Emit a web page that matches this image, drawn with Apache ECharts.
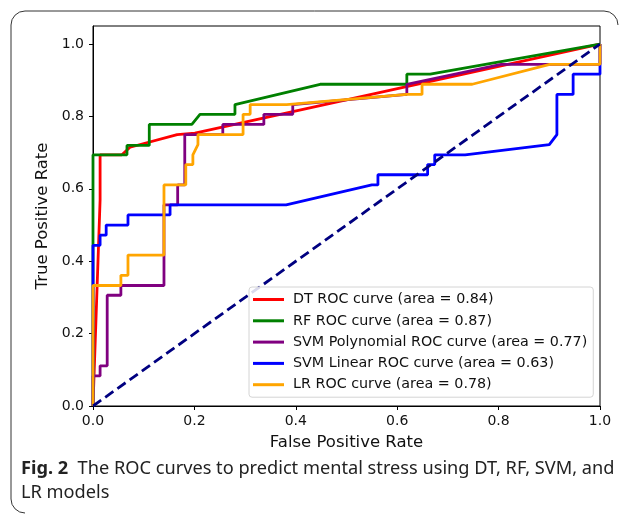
<!DOCTYPE html>
<html>
<head>
<meta charset="utf-8">
<script src="https://cdn.jsdelivr.net/npm/echarts@6/dist/echarts.min.js"></script>
<style>
  html, body { margin: 0; padding: 0; background: #fff; }
  #chart { width: 629px; height: 514px; }
</style>
</head>
<body>
<div id="chart"></div>
<script>
const modelNames = [
  'DT ROC curve (area = 0.84)',
  'RF ROC curve (area = 0.87)',
  'SVM Polynomial ROC curve (area = 0.77)',
  'SVM Linear ROC curve (area = 0.63)',
  'LR ROC curve (area = 0.78)'
]
const modelColors = ['#ff0000', '#008000', '#800080', '#0000ff', '#ffa500']

const dtFpr = [0, 0.014, 0.014, 0.057, 0.073, 0.166, 0.201, 1]
const dtTpr = [0, 0.569, 0.694, 0.694, 0.715, 0.75, 0.754, 1]

const rfFpr = [0, 0, 0.067, 0.067, 0.111, 0.111, 0.195, 0.211, 0.28, 0.28, 0.448, 0.619, 0.619, 0.665, 1]
const rfTpr = [0, 0.694, 0.694, 0.72, 0.72, 0.778, 0.778, 0.806, 0.806, 0.833, 0.889, 0.889, 0.917, 0.917, 1]

const polyFpr = [0, 0, 0.014, 0.014, 0.028, 0.028, 0.055, 0.055, 0.14, 0.14, 0.167, 0.167, 0.181, 0.181, 0.256, 0.256, 0.337, 0.337, 0.394, 0.394, 0.619, 0.619, 0.805, 1, 1]
const polyTpr = [0, 0.083, 0.083, 0.111, 0.111, 0.306, 0.306, 0.333, 0.333, 0.556, 0.556, 0.611, 0.611, 0.75, 0.75, 0.778, 0.778, 0.806, 0.806, 0.833, 0.861, 0.889, 0.944, 0.944, 1]

const linFpr = [0, 0, 0.014, 0.014, 0.026, 0.026, 0.069, 0.069, 0.152, 0.152, 0.381, 0.55, 0.562, 0.562, 0.66, 0.66, 0.674, 0.674, 0.734, 0.9, 0.915, 0.915, 0.947, 0.947, 1, 1]
const linTpr = [0, 0.444, 0.444, 0.472, 0.472, 0.5, 0.5, 0.528, 0.528, 0.556, 0.556, 0.611, 0.611, 0.639, 0.639, 0.667, 0.667, 0.694, 0.694, 0.722, 0.75, 0.861, 0.861, 0.917, 0.917, 1]

const lrFpr = [0, 0, 0.055, 0.055, 0.069, 0.069, 0.14, 0.14, 0.183, 0.183, 0.197, 0.197, 0.207, 0.207, 0.296, 0.296, 0.31, 0.31, 0.382, 0.619, 0.649, 0.649, 0.748, 0.901, 1, 1]
const lrTpr = [0, 0.333, 0.333, 0.361, 0.361, 0.417, 0.417, 0.611, 0.611, 0.667, 0.667, 0.694, 0.722, 0.75, 0.75, 0.806, 0.806, 0.833, 0.833, 0.861, 0.861, 0.889, 0.889, 0.944, 0.944, 1]

const diagX = [0, 1]
const diagY = [0, 1]

const tickValues = [0, 0.2, 0.4, 0.6, 0.8, 1.0]

const curves = [
  [dtFpr, dtTpr],
  [rfFpr, rfTpr],
  [polyFpr, polyTpr],
  [linFpr, linTpr],
  [lrFpr, lrTpr]
]

const zip = (xs, ys) => xs.map((x, i) => [x, ys[i]])

const chart = echarts.init(document.getElementById('chart'))

const axisCommon = {
  type: 'value',
  interval: 0.2,
  min: 0,
  axisLine: { show: true, lineStyle: { color: '#000', width: 1 } },
  axisTick: { show: true, inside: false, length: 4, customValues: tickValues, lineStyle: { color: '#000' } },
  axisLabel: {
    customValues: tickValues,
    formatter: v => v.toFixed(1),
    color: '#111',
    fontFamily: 'DejaVu Sans',
    fontSize: 14
  },
  splitLine: { show: false },
  nameLocation: 'middle',
  nameTextStyle: { fontFamily: 'DejaVu Sans', fontSize: 16.5, color: '#111' }
}

const series = curves.map((c, i) => ({
  name: modelNames[i],
  type: 'line',
  data: zip(c[0], c[1]),
  showSymbol: false,
  symbol: 'none',
  color: modelColors[i],
  lineStyle: { color: modelColors[i], width: 2.8 },
  animation: false
}))
series.push({
  name: 'chance',
  type: 'line',
  data: zip(diagX, diagY),
  showSymbol: false,
  symbol: 'none',
  lineStyle: { color: '#000080', width: 2.8, type: [10, 5] },
  animation: false
})

const option = {
  animation: false,
  grid: {
    left: 93, right: 29, top: 26, bottom: 108,
    show: true, borderColor: '#000', borderWidth: 1
  },
  xAxis: Object.assign({}, axisCommon, {
    max: 1,
    name: 'False Positive Rate',
    nameGap: 28,
    axisLabel: Object.assign({}, axisCommon.axisLabel, { margin: 8 })
  }),
  yAxis: Object.assign({}, axisCommon, {
    max: 1.05,
    name: 'True Positive Rate',
    nameGap: 40,
    axisLabel: Object.assign({}, axisCommon.axisLabel, { margin: 9 })
  }),
  legend: {
    data: modelNames,
    orient: 'vertical',
    left: 249,
    top: 287,
    itemWidth: 31,
    itemHeight: 3,
    icon: 'rect',
    itemGap: 6.3,
    padding: [5, 6, 5, 4],
    backgroundColor: 'rgba(255,255,255,0.85)',
    borderColor: '#d4d4d4',
    borderWidth: 1,
    borderRadius: 3,
    selectedMode: false,
    textStyle: {
      fontFamily: 'DejaVu Sans',
      fontSize: 14.3,
      color: '#111',
      lineHeight: 15,
      padding: [0, 0, 0, 4]
    }
  },
  graphic: [
    { type: 'line', shape: { x1: 11, y1: 25, x2: 11, y2: 499 }, style: { stroke: '#333', lineWidth: 1 } },
    { type: 'arc', shape: { cx: 25, cy: 25, r: 14, startAngle: Math.PI, endAngle: Math.PI * 1.5 }, style: { stroke: '#333', lineWidth: 1, fill: null } },
    { type: 'line', shape: { x1: 25, y1: 11, x2: 604, y2: 11 }, style: { stroke: '#333', lineWidth: 1 } },
    { type: 'arc', shape: { cx: 604, cy: 25, r: 14, startAngle: Math.PI * 1.5, endAngle: Math.PI * 2 }, style: { stroke: '#333', lineWidth: 1, fill: null } },
    { type: 'arc', shape: { cx: 25, cy: 499, r: 14, startAngle: Math.PI * 0.5, endAngle: Math.PI }, style: { stroke: '#333', lineWidth: 1, fill: null } },
    {
      type: 'text',
      left: 21,
      top: 457,
      style: {
        text: '{b|Fig. 2}  The ROC curves to predict mental stress using DT, RF, SVM, and\nLR models',
        fontFamily: 'Noto Sans',
        fontSize: 18.2,
        lineHeight: 24,
        fill: '#222',
        rich: {
          b: { fontFamily: 'Noto Sans', fontWeight: 'bold', fontSize: 18.2, fill: '#222' }
        }
      }
    }
  ],
  series: series
}

chart.setOption(option)
</script>
</body>
</html>
